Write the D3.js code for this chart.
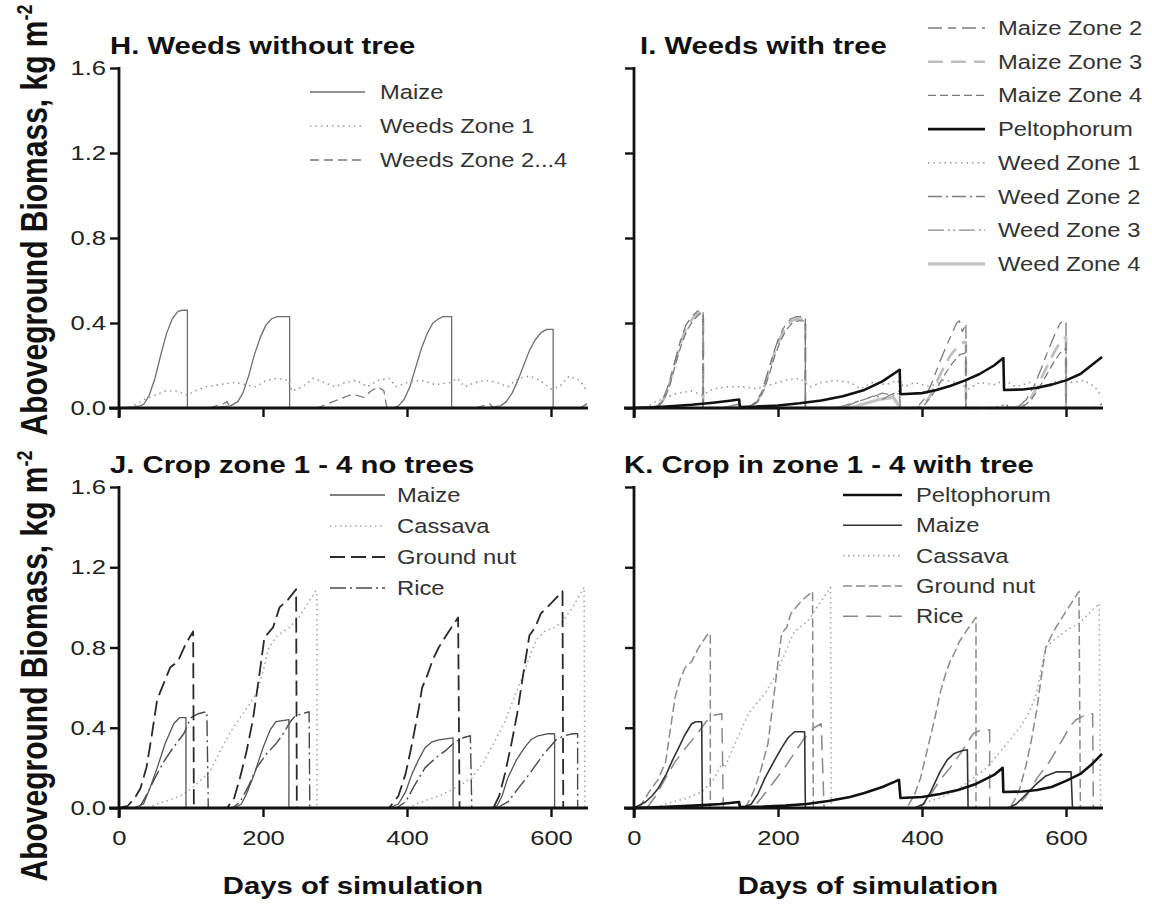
<!DOCTYPE html>
<html><head><meta charset="utf-8">
<script src="https://cdn.jsdelivr.net/npm/d3@7"></script>
<style>
body{margin:0;background:#fff;}
text{font-family:"Liberation Sans",Arial,sans-serif;}
</style></head>
<body><svg id="c" width="1152" height="911"></svg>
<script>
// ---------- axis settings ----------
const yTicks = [0, 0.4, 0.8, 1.2, 1.6];
const xTicks = [0, 200, 400, 600];
const xDomain = [0, 650];
const yDomain = [0, 1.6];

// ---------- Panel H: Weeds without tree ----------
const H_maize = [[0,0],[20,0.005],[30,0.01],[35,0.02],[42,0.06],[50,0.14],[58,0.25],[66,0.35],[74,0.42],[82,0.455],[88,0.46],[95,0.46],[95,0],[125,0],[140,0.005],[155,0.01],[165,0.03],[172,0.07],[180,0.15],[188,0.25],[196,0.33],[204,0.39],[212,0.42],[220,0.43],[237,0.43],[237,0],[380,0],[388,0.01],[396,0.04],[404,0.1],[412,0.19],[420,0.28],[428,0.35],[436,0.4],[444,0.42],[450,0.43],[462,0.43],[462,0],[510,0],[520,0.005],[530,0.01],[538,0.03],[546,0.07],[554,0.13],[562,0.2],[570,0.27],[578,0.32],[586,0.355],[594,0.37],[603,0.37],[603,0],[640,0],[650,0.02]];
const H_weed1 = [[15,0],[25,0.02],[35,0.04],[50,0.06],[65,0.08],[80,0.08],[95,0.06],[105,0.08],[120,0.1],[140,0.11],[160,0.12],[175,0.11],[190,0.1],[205,0.13],[220,0.14],[235,0.13],[240,0.08],[255,0.1],[270,0.14],[285,0.12],[300,0.1],[315,0.12],[330,0.13],[345,0.1],[360,0.13],[375,0.14],[385,0.1],[400,0.12],[420,0.13],[440,0.11],[460,0.12],[470,0.14],[480,0.1],[495,0.12],[510,0.13],[525,0.12],[540,0.1],[555,0.14],[570,0.15],[585,0.13],[600,0.09],[612,0.1],[625,0.15],[640,0.13],[650,0.08]];
const H_weed24 = [[125,0],[135,0.01],[145,0.02],[150,0.03],[155,0],[275,0],[290,0.02],[305,0.04],[320,0.06],[330,0.06],[340,0.05],[350,0.08],[360,0.1],[368,0.08],[372,0],[495,0],[505,0.01],[515,0.02],[520,0],[640,0],[650,0.02]];

// ---------- Panel I: Weeds with tree ----------
const I_maize2 = [[0,0],[25,0.005],[33,0.01],[40,0.04],[48,0.11],[56,0.21],[64,0.31],[72,0.39],[80,0.43],[88,0.455],[96,0.46],[96,0],[150,0],[162,0.01],[170,0.03],[178,0.08],[186,0.17],[194,0.26],[202,0.34],[210,0.39],[218,0.42],[226,0.43],[238,0.43],[238,0],[385,0],[395,0.01],[405,0.05],[415,0.13],[425,0.22],[435,0.3],[443,0.36],[448,0.4],[452,0.41],[456,0.36],[459,0.38],[461,0.4],[461,0],[520,0],[535,0.01],[545,0.04],[555,0.1],[565,0.18],[575,0.27],[585,0.35],[592,0.4],[598,0.41],[600,0.41],[600,0],[640,0],[650,0.02]];
const I_maize3 = [[0,0],[25,0.005],[34,0.01],[41,0.04],[49,0.11],[57,0.21],[65,0.31],[73,0.38],[81,0.42],[89,0.445],[96,0.45],[96,0],[150,0],[163,0.01],[171,0.03],[179,0.08],[187,0.17],[195,0.26],[203,0.33],[211,0.38],[219,0.41],[227,0.42],[238,0.42],[238,0],[390,0],[400,0.01],[410,0.05],[420,0.12],[430,0.19],[440,0.25],[450,0.29],[458,0.31],[461,0.31],[461,0],[525,0],[540,0.01],[550,0.04],[560,0.1],[570,0.17],[580,0.24],[590,0.3],[598,0.33],[600,0.33],[600,0]];
const I_maize4 = [[0,0],[26,0.005],[35,0.01],[42,0.04],[50,0.11],[58,0.21],[66,0.3],[74,0.37],[82,0.41],[90,0.44],[96,0.445],[96,0],[150,0],[164,0.01],[172,0.03],[180,0.08],[188,0.16],[196,0.25],[204,0.32],[212,0.37],[220,0.4],[228,0.41],[238,0.41],[238,0],[392,0],[402,0.01],[412,0.05],[422,0.1],[432,0.16],[442,0.21],[452,0.25],[461,0.26],[461,0],[528,0],[542,0.01],[552,0.04],[562,0.09],[572,0.15],[582,0.21],[592,0.26],[600,0.28],[600,0]];
const I_pelto = [[0,0],[20,0.002],[50,0.008],[80,0.015],[110,0.025],[130,0.033],[146,0.04],[147,0.005],[170,0.007],[200,0.012],[230,0.022],[260,0.035],[290,0.055],[320,0.085],[345,0.125],[369,0.18],[370,0.065],[400,0.07],[420,0.085],[440,0.105],[460,0.13],[480,0.16],[500,0.2],[513,0.235],[514,0.085],[540,0.087],[560,0.095],[580,0.11],[600,0.13],[620,0.16],[635,0.2],[650,0.24]];
const I_weed1 = [[15,0],[30,0.03],[45,0.05],[60,0.07],[80,0.08],[95,0.06],[110,0.09],[130,0.1],[150,0.1],[170,0.09],[190,0.11],[210,0.13],[230,0.14],[245,0.1],[260,0.12],[280,0.13],[300,0.12],[315,0.09],[330,0.12],[350,0.11],[365,0.13],[375,0.1],[390,0.12],[410,0.1],[430,0.13],[450,0.12],[465,0.09],[480,0.12],[500,0.11],[515,0.13],[530,0.1],[550,0.12],[570,0.1],[590,0.13],[610,0.12],[625,0.13],[640,0.1],[650,0.05]];
const I_weed2 = [[120,0],[135,0.01],[145,0.02],[148,0],[280,0],[300,0.02],[320,0.04],[335,0.06],[345,0.04],[355,0.06],[368,0.08],[370,0],[500,0],[510,0.01],[518,0.02],[520,0],[640,0],[650,0.02]];
const I_weed3 = [[125,0],[140,0.015],[148,0.02],[150,0],[290,0],[310,0.03],[330,0.05],[345,0.07],[360,0.06],[369,0.07],[370,0],[505,0],[515,0.015],[520,0]];
const I_weed4 = [[130,0],[145,0.01],[148,0],[300,0],[320,0.02],[340,0.04],[360,0.05],[370,0]];

// ---------- Panel J: Crop zone 1-4 no trees ----------
const J_maize = [[20,0],[34,0.02],[43,0.1],[53,0.2],[64,0.32],[76,0.42],[84,0.45],[93,0.45],[93,0],[160,0],[170,0.02],[177,0.07],[188,0.17],[200,0.3],[210,0.39],[218,0.43],[236,0.44],[236,0],[375,0],[388,0.02],[398,0.08],[407,0.17],[416,0.24],[425,0.3],[435,0.33],[444,0.34],[464,0.35],[464,0],[515,0],[525,0.01],[532,0.06],[540,0.15],[552,0.24],[563,0.3],[572,0.34],[582,0.36],[595,0.37],[605,0.37],[605,0]];
const J_cassava = [[40,0],[53,0.02],[70,0.04],[85,0.06],[94,0.08],[105,0.11],[117,0.15],[126,0.18],[140,0.28],[155,0.38],[170,0.46],[182,0.52],[192,0.58],[200,0.68],[208,0.8],[220,0.86],[237,0.9],[250,0.95],[262,1.02],[273,1.08],[275,1.08],[275,0],[400,0],[420,0.03],[445,0.06],[467,0.1],[490,0.15],[505,0.22],[520,0.32],[536,0.43],[550,0.56],[562,0.67],[570,0.75],[580,0.84],[591,0.88],[605,0.9],[616,0.93],[630,1.0],[646,1.1],[647,0]];
const J_gnut = [[0,0],[12,0.01],[22,0.05],[30,0.1],[38,0.2],[45,0.35],[53,0.54],[62,0.62],[71,0.7],[78,0.72],[83,0.74],[93,0.82],[103,0.88],[104,0],[150,0],[160,0.05],[168,0.15],[177,0.28],[186,0.44],[194,0.64],[202,0.85],[214,0.9],[223,1.0],[235,1.04],[246,1.09],[247,0],[375,0],[388,0.06],[398,0.17],[407,0.32],[416,0.49],[421,0.6],[427,0.65],[436,0.74],[444,0.8],[458,0.88],[471,0.95],[473,0],[520,0],[528,0.06],[536,0.17],[545,0.32],[553,0.47],[562,0.68],[570,0.86],[578,0.9],[586,0.97],[600,1.02],[616,1.08],[617,0]];
const J_rice = [[28,0],[39,0.07],[50,0.15],[62,0.23],[75,0.3],[90,0.37],[96,0.42],[100,0.45],[110,0.47],[122,0.48],[124,0],[158,0],[168,0.03],[180,0.11],[191,0.2],[205,0.27],[218,0.32],[228,0.37],[238,0.43],[245,0.46],[255,0.47],[264,0.48],[265,0],[385,0],[398,0.03],[410,0.11],[425,0.2],[440,0.25],[455,0.29],[467,0.33],[478,0.35],[488,0.36],[490,0],[525,0],[540,0.03],[555,0.1],[568,0.16],[576,0.2],[590,0.27],[600,0.31],[607,0.34],[618,0.36],[630,0.37],[637,0.37],[637,0]];

// ---------- Panel K: Crop in zone 1-4 with tree ----------
const K_pelto = [[0,0],[30,0.003],[60,0.008],[90,0.013],[120,0.02],[146,0.03],[147,0.005],[180,0.007],[210,0.012],[240,0.02],[270,0.035],[300,0.055],[320,0.075],[345,0.105],[368,0.14],[370,0.05],[400,0.055],[425,0.07],[450,0.09],[475,0.12],[500,0.165],[512,0.2],[513,0.08],[540,0.082],[560,0.09],[580,0.105],[600,0.135],[620,0.17],[635,0.215],[650,0.27]];
const K_maize = [[0,0],[16,0.03],[25,0.06],[34,0.1],[45,0.17],[55,0.25],[62,0.3],[70,0.36],[80,0.42],[86,0.43],[94,0.43],[95,0],[150,0],[163,0.02],[172,0.07],[182,0.15],[194,0.23],[205,0.3],[214,0.35],[223,0.38],[237,0.38],[238,0],[390,0],[402,0.02],[412,0.08],[425,0.18],[435,0.24],[444,0.27],[455,0.285],[463,0.29],[464,0],[520,0],[531,0.02],[545,0.07],[559,0.12],[572,0.16],[586,0.18],[600,0.18],[607,0.18],[609,0]];
const K_cassava = [[16,0],[35,0.01],[53,0.03],[75,0.05],[94,0.08],[110,0.14],[122,0.22],[126,0.2],[140,0.32],[159,0.47],[170,0.52],[182,0.57],[195,0.65],[205,0.73],[215,0.82],[223,0.88],[241,0.93],[258,1.02],[273,1.1],[274,0],[390,0],[407,0.03],[425,0.05],[444,0.08],[468,0.14],[490,0.2],[513,0.3],[536,0.4],[549,0.48],[559,0.57],[566,0.7],[572,0.8],[584,0.84],[595,0.87],[607,0.9],[618,0.92],[632,0.97],[646,1.02],[648,0]];
const K_gnut = [[7,0],[14,0.04],[21,0.08],[33,0.14],[44,0.23],[50,0.38],[57,0.55],[64,0.64],[71,0.7],[80,0.73],[90,0.8],[103,0.87],[106,0.87],[106,0],[154,0],[162,0.05],[168,0.1],[177,0.2],[186,0.32],[195,0.58],[205,0.87],[212,0.9],[218,0.97],[232,1.03],[248,1.08],[249,0],[379,0],[390,0.07],[398,0.15],[408,0.3],[418,0.45],[425,0.57],[432,0.66],[439,0.73],[446,0.78],[452,0.83],[463,0.89],[475,0.95],[475,0],[522,0],[530,0.05],[536,0.1],[545,0.22],[552,0.34],[559,0.48],[566,0.66],[572,0.8],[580,0.86],[586,0.9],[600,0.98],[618,1.08],[620,0]];
const K_rice = [[18,0],[30,0.06],[44,0.15],[57,0.23],[72,0.3],[90,0.38],[100,0.43],[108,0.46],[122,0.47],[124,0],[165,0],[177,0.05],[192,0.12],[209,0.2],[222,0.27],[237,0.35],[250,0.4],[260,0.42],[264,0],[398,0],[411,0.06],[425,0.14],[439,0.2],[455,0.28],[471,0.37],[482,0.39],[494,0.39],[494,0],[530,0],[545,0.06],[560,0.15],[577,0.23],[595,0.34],[606,0.41],[614,0.44],[625,0.46],[637,0.47],[638,0]];

// ---------- legend / series labels ----------
const H_labels = ["Maize", "Weeds Zone 1", "Weeds Zone 2...4"];
const I_labels = ["Maize Zone 2", "Maize Zone 3", "Maize Zone 4", "Peltophorum", "Weed Zone 1", "Weed Zone 2", "Weed Zone 3", "Weed Zone 4"];
const J_labels = ["Maize", "Cassava", "Ground nut", "Rice"];
const K_labels = ["Peltophorum", "Maize", "Cassava", "Ground nut", "Rice"];
const titles = ["H. Weeds without tree", "I. Weeds with tree", "J. Crop zone 1 - 4 no trees", "K. Crop in zone 1 - 4 with tree"];

// ---------- styles ----------
const SX = 1.22; // horizontal stretch of the lettering in the original figure
const ST = {
  maizeThin: {c:"#6e6e6e", w:1.3, d:null},
  weedDot:   {c:"#9a9a9a", w:1.6, d:"1.5,4"},
  weedDash:  {c:"#777", w:1.3, d:"9,5"},
  pelto:     {c:"#111", w:2.6, d:null},
  mz2:       {c:"#7a7a7a", w:1.3, d:"14,6,8,6"},
  mz3:       {c:"#bdbdbd", w:2.6, d:"15,8"},
  mz4:       {c:"#7a7a7a", w:1.3, d:"8,4"},
  wz2:       {c:"#808080", w:1.3, d:"14,4,2,4"},
  wz3:       {c:"#8a8a8a", w:1.3, d:"16,4,2,3,2,4"},
  wz4:       {c:"#c4c4c4", w:3.2, d:null},
  jMaize:    {c:"#555", w:1.3, d:null},
  cassava:   {c:"#a8a8a8", w:1.6, d:"1.5,3.5"},
  jGnut:     {c:"#2a2a2a", w:1.8, d:"15,6"},
  jRice:     {c:"#4a4a4a", w:1.4, d:"16,4,2,4"},
  kMaize:    {c:"#333", w:1.6, d:null},
  kGnut:     {c:"#8a8a8a", w:1.5, d:"9,4"},
  kRice:     {c:"#8a8a8a", w:1.5, d:"15,8"}
};

const panels = [
  {x0:119, x1:587, yb:408, yt:68, title:titles[0], tx:110, ty:54, ylab:true, xlab:false, ycy:220,
   series:[[H_maize,ST.maizeThin],[H_weed1,ST.weedDot],[H_weed24,ST.weedDash]],
   legend:{labels:H_labels, styles:[ST.maizeThin,ST.weedDot,ST.weedDash], lx:310, lx2:365, tx:380, y0:92, dy:34}},
  {x0:634, x1:1102, yb:408, yt:68, title:titles[1], tx:640, ty:54, ylab:false, xlab:false,
   series:[[I_weed4,ST.wz4],[I_weed1,ST.weedDot],[I_weed2,ST.wz2],[I_weed3,ST.wz3],[I_maize3,ST.mz3],[I_maize4,ST.mz4],[I_maize2,ST.mz2],[I_pelto,ST.pelto]],
   legend:{labels:I_labels, styles:[ST.mz2,ST.mz3,ST.mz4,ST.pelto,ST.weedDot,ST.wz2,ST.wz3,ST.wz4], lx:928, lx2:985, tx:998, y0:28, dy:33.7}},
  {x0:119, x1:587, yb:808, yt:487, title:titles[2], tx:110, ty:473, ylab:true, xlab:true, ycy:666,
   series:[[J_cassava,ST.cassava],[J_rice,ST.jRice],[J_maize,ST.jMaize],[J_gnut,ST.jGnut]],
   legend:{labels:J_labels, styles:[ST.jMaize,ST.cassava,ST.jGnut,ST.jRice], lx:330, lx2:385, tx:397, y0:495, dy:31}},
  {x0:634, x1:1102, yb:808, yt:487, title:titles[3], tx:624, ty:473, ylab:false, xlab:true,
   series:[[K_cassava,ST.cassava],[K_rice,ST.kRice],[K_gnut,ST.kGnut],[K_maize,ST.kMaize],[K_pelto,ST.pelto]],
   legend:{labels:K_labels, styles:[ST.pelto,ST.kMaize,ST.cassava,ST.kGnut,ST.kRice], lx:843, lx2:902, tx:916, y0:495, dy:30.3}}
];

const svg = d3.select("#c");

function applyStyle(sel, s){
  sel.attr("fill","none").attr("stroke",s.c).attr("stroke-width",s.w)
     .attr("stroke-dasharray",s.d).attr("stroke-linejoin","round");
}
function addText(x, y, str, size, weight, anchor, fill){
  return svg.append("text").attr("transform",`translate(${x},${y}) scale(${SX},1)`)
    .attr("font-size",size).attr("font-weight",weight||"normal")
    .attr("text-anchor",anchor||"start").attr("fill",fill||"#222").text(str);
}

panels.forEach(p => {
  const x = d3.scaleLinear().domain(xDomain).range([p.x0, p.x1]);
  const y = d3.scaleLinear().domain(yDomain).range([p.yb, p.yt]);
  const g = svg.append("g");
  const line = d3.line().x(d=>x(d[0])).y(d=>y(d[1]));

  p.series.forEach(([data, s]) => {
    g.append("path").datum(data).attr("d", line).call(applyStyle, s);
  });

  // y axis
  const ya = d3.axisLeft(y).tickValues(yTicks).tickSize(9).tickFormat(p.ylab ? d3.format(".1f") : "");
  const yg = g.append("g").attr("transform",`translate(${p.x0},0)`).call(ya);
  yg.select(".domain").attr("stroke","#111").attr("stroke-width",2.8).attr("d",`M0,${p.yt-1}V${p.yb+10}`);
  yg.selectAll(".tick line").attr("stroke","#111").attr("stroke-width",2.4);
  yg.selectAll(".tick text").attr("font-size",21).attr("fill","#222").attr("x",0)
    .attr("transform",`translate(-13,0) scale(${SX},1)`)
    .attr("font-family","Liberation Sans, Arial, sans-serif");

  // x axis
  const xa = d3.axisBottom(x).tickValues(xTicks).tickSize(9).tickFormat(p.xlab ? d3.format("d") : "");
  const xg = g.append("g").attr("transform",`translate(0,${p.yb})`).call(xa);
  xg.select(".domain").attr("stroke","#111").attr("stroke-width",2.8).attr("d",`M${p.x0-10},0H${p.x1+1}`);
  xg.selectAll(".tick line").attr("stroke","#111").attr("stroke-width",2.4);
  xg.selectAll(".tick text").attr("font-size",21).attr("fill","#222").attr("y",0).attr("dy","0.71em")
    .attr("transform",`translate(0,22) scale(${SX},1)`)
    .attr("font-family","Liberation Sans, Arial, sans-serif");

  // title
  addText(p.tx, p.ty, p.title, 24, "bold", "start", "#111");

  // legend
  const L = p.legend;
  L.labels.forEach((lab,i) => {
    const yy = L.y0 + i*L.dy;
    svg.append("line").attr("x1",L.lx).attr("x2",L.lx2).attr("y1",yy).attr("y2",yy).call(applyStyle, L.styles[i]);
    addText(L.tx, yy + 7, lab, 19.5, "normal", "start", "#333");
  });

  if (p.xlab) {
    addText((p.x0+p.x1)/2, 894, "Days of simulation", 24, "bold", "middle", "#111");
  }
  if (p.ylab) {
    const t = svg.append("text").attr("transform",`translate(47,${p.ycy}) rotate(-90) scale(1,${SX})`)
       .attr("text-anchor","middle").attr("font-size",30).attr("font-weight","bold").attr("fill","#111");
    t.append("tspan").text("Aboveground Biomass, kg m");
    t.append("tspan").attr("font-size",18).attr("dy",-12).text("-2");
  }
});
</script>
</body></html>
